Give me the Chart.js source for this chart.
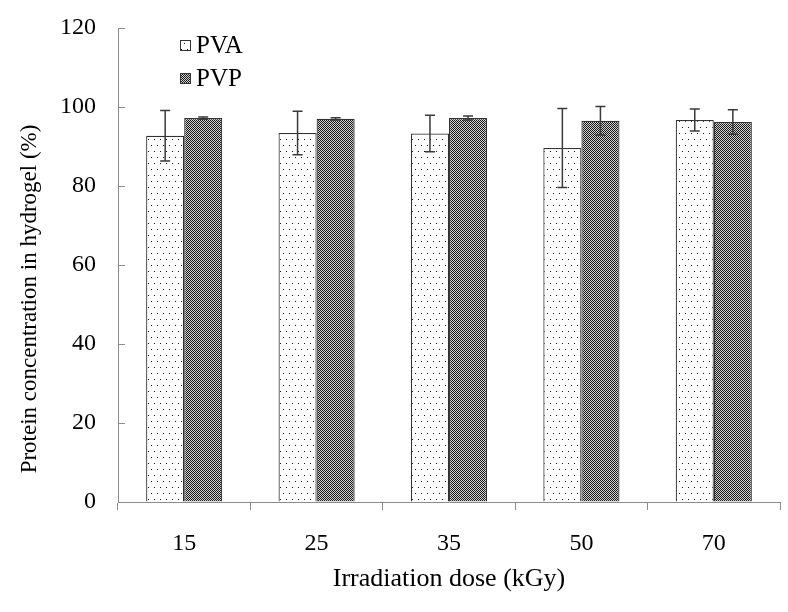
<!DOCTYPE html>
<html>
<head>
<meta charset="utf-8">
<script src="https://cdn.jsdelivr.net/npm/chart.js@4.4.1/dist/chart.umd.min.js"></script>
<style>
    html, body { margin: 0; padding: 0; background: #fff; }
    #wrap { width: 788px; height: 612px; }
</style>
</head>
<body>
<div id="wrap"><canvas id="doseChart"></canvas></div>
<script>
// dados
const doses = ['15', '25', '35', '50', '70'];
const pvaValores = [92.7, 93.4, 93.3, 89.6, 96.7];
const pvaErros = [6.4, 5.5, 4.6, 10.0, 2.8];
const pvpValores = [97.2, 97.0, 97.2, 96.5, 96.2];
const pvpErros = [0.3, 0.3, 0.5, 3.6, 3.1];
const yTicks = [0, 20, 40, 60, 80, 100, 120];

const fonte = "'Liberation Serif', 'Times New Roman', serif";

// padrões das barras
function padraoPontos() {
    const c = document.createElement('canvas');
    c.width = 6; c.height = 12;
    const g = c.getContext('2d');
    g.fillStyle = '#ffffff';
    g.fillRect(0, 0, 6, 12);
    g.fillStyle = '#111111';
    g.fillRect(1, 1, 1, 1);
    g.fillRect(4, 7, 1, 1);
    return g.createPattern(c, 'repeat');
}

function padraoXadrez() {
    const c = document.createElement('canvas');
    c.width = 2; c.height = 2;
    const g = c.getContext('2d');
    g.fillStyle = '#d0d0d0';
    g.fillRect(0, 0, 2, 2);
    g.fillStyle = '#1a1a1a';
    g.fillRect(0, 0, 1, 1);
    g.fillRect(1, 1, 1, 1);
    return g.createPattern(c, 'repeat');
}

// barras de erro
const barrasErro = {
    id: 'barrasErro',
    afterDatasetsDraw(chart) {
        const ctx = chart.ctx;
        const y = chart.scales.y;
        chart.data.datasets.forEach((ds, i) => {
            const meta = chart.getDatasetMeta(i);
            meta.data.forEach((bar, j) => {
                const v = ds.data[j];
                const e = ds.erros[j];
                const yt = y.getPixelForValue(v + e);
                const yb = y.getPixelForValue(v - e);
                ctx.save();
                ctx.strokeStyle = '#3a3a3a';
                ctx.lineWidth = 1.5;
                ctx.beginPath();
                ctx.moveTo(bar.x, yt); ctx.lineTo(bar.x, yb);
                ctx.moveTo(bar.x - 5, yt); ctx.lineTo(bar.x + 5, yt);
                ctx.moveTo(bar.x - 5, yb); ctx.lineTo(bar.x + 5, yb);
                ctx.stroke();
                ctx.restore();
            });
        });
    }
};

// marcas do eixo y para dentro, título do eixo y e legenda
const extras = {
    id: 'extras',
    afterDraw(chart) {
        const ctx = chart.ctx;
        const y = chart.scales.y;
        const area = chart.chartArea;
        ctx.save();
        ctx.strokeStyle = '#8c8c8c';
        ctx.lineWidth = 1;
        yTicks.forEach(t => {
            const py = Math.round(y.getPixelForValue(t)) + 0.5;
            ctx.beginPath();
            ctx.moveTo(area.left, py);
            ctx.lineTo(area.left + 7, py);
            ctx.stroke();
        });

        // título do eixo y
        ctx.fillStyle = '#000';
        ctx.font = '23px ' + fonte;
        ctx.textAlign = 'center';
        ctx.textBaseline = 'middle';
        ctx.translate(30, 299);
        ctx.rotate(-Math.PI / 2);
        ctx.fillText('Protein concentration in hydrogel (%)', 0, 0);
        ctx.restore();

        // legenda
        ctx.save();
        ctx.font = '25px ' + fonte;
        ctx.textBaseline = 'middle';
        chart.data.datasets.forEach((ds, i) => {
            const ly = 45 + i * 33;
            ctx.fillStyle = ds.backgroundColor;
            ctx.fillRect(180, ly - 5, 11, 11);
            ctx.strokeStyle = '#333';
            ctx.lineWidth = 1;
            ctx.strokeRect(180.5, ly - 4.5, 10, 10);
            ctx.fillStyle = '#000';
            ctx.fillText(ds.label, 196, ly + 1);
        });
        ctx.restore();
    }
};

const ctx = document.getElementById('doseChart').getContext('2d');
const doseChart = new Chart(ctx, {
    type: 'bar',
    data: {
        labels: doses,
        datasets: [{
            label: 'PVA',
            data: pvaValores,
            erros: pvaErros,
            backgroundColor: padraoPontos(),
            borderColor: '#333333',
            borderWidth: 1.2
        }, {
            label: 'PVP',
            data: pvpValores,
            erros: pvpErros,
            backgroundColor: padraoXadrez(),
            borderColor: '#333333',
            borderWidth: 1.2
        }]
    },
    options: {
        responsive: true,
        maintainAspectRatio: false,
        animation: false,
        layout: { padding: { top: 28, right: 8, left: 0, bottom: 0 } },
        datasets: {
            bar: { categoryPercentage: 0.575, barPercentage: 1.0 }
        },
        plugins: {
            legend: { display: false },
            tooltip: { enabled: false }
        },
        scales: {
            x: {
                afterFit: (s) => { s.height = 110; s.paddingLeft = 0; s.paddingRight = 0; },
                grid: {
                    drawOnChartArea: false,
                    drawTicks: true,
                    tickLength: 8,
                    color: '#8c8c8c'
                },
                border: { color: '#8c8c8c', width: 1 },
                ticks: {
                    color: '#000',
                    padding: 19,
                    font: { family: fonte, size: 24 }
                },
                title: {
                    display: true,
                    text: 'Irradiation dose (kGy)',
                    color: '#000',
                    padding: { top: 0, bottom: 17 },
                    font: { family: fonte, size: 26 }
                }
            },
            y: {
                min: 0,
                max: 120,
                afterFit: (s) => { s.width = 118; s.paddingTop = 0; s.paddingBottom = 0; },
                afterBuildTicks: (s) => { s.ticks = yTicks.map(v => ({ value: v })); },
                grid: { drawOnChartArea: false, drawTicks: false },
                border: { color: '#8c8c8c', width: 1 },
                ticks: {
                    color: '#000',
                    padding: 22,
                    font: { family: fonte, size: 24 }
                }
            }
        }
    },
    plugins: [barrasErro, extras]
});
</script>
</body>
</html>
